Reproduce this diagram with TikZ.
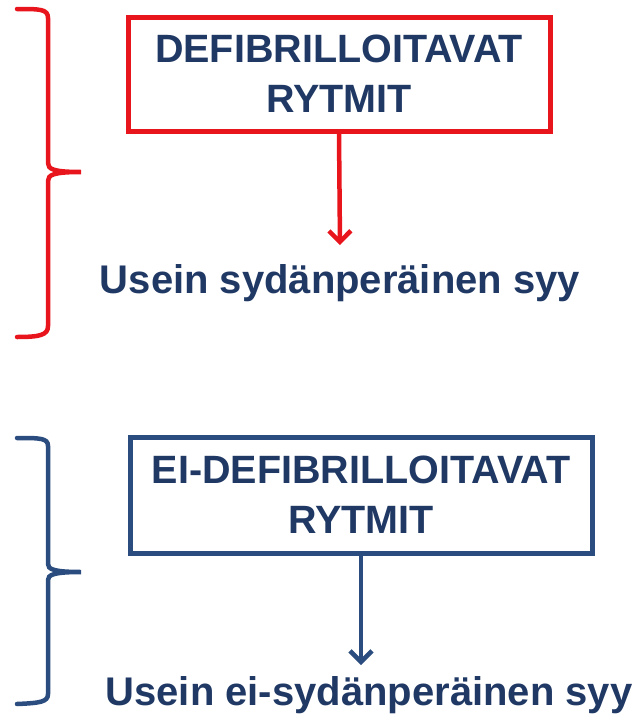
\documentclass[tikz,border=0pt]{standalone}
\usepackage{fontspec}
\setmainfont{Liberation Sans}
\usetikzlibrary{arrows.meta}
\definecolor{rd}{HTML}{E8151C}
\definecolor{bl}{HTML}{2B4C7E}
\definecolor{tx}{HTML}{1F3864}
\tikzset{
  boxnode/.style={draw, line width=5pt, minimum width=#1, inner sep=0pt, align=center, font=\fontsize{39.5}{50}\selectfont\bfseries},
  label node/.style={font=\fontsize{40}{46}\selectfont\bfseries, text=tx, inner sep=0pt},
  brace/.style={line width=4.5pt, line cap=round},
  arr/.style={line width=4.5pt, -{Straight Barb[length=11pt,width=22pt,line width=4.5pt]}}
}
\begin{document}
\begin{tikzpicture}[x=1pt,y=-1pt]
\useasboundingbox (0,0) rectangle (635,723);
% red group
\draw[brace, rd] (17,9) .. controls (40,9) and (48,9) .. (48,18) -- (48,163) .. controls (48,169) and (53,172) .. (81,172)
  .. controls (53,172) and (48,175) .. (48,181) -- (48,326) .. controls (48,335) and (40,337) .. (17,337);
\node[boxnode=422pt, draw=rd, text=tx, minimum height=114pt] (b1) at (339,74) {DEFIBRILLOITAVAT\\RYTMIT};
\node[label node] (t1) at (340,283) {Usein sydänperäinen syy};
\coordinate (e1) at (340,245);
\draw[arr, rd] (b1.south) -- (e1);
% blue group
\draw[brace, bl] (17,438) .. controls (40,438) and (48,438) .. (48,446) -- (48,564) .. controls (48,569) and (53,572) .. (81,572)
  .. controls (53,572) and (48,575) .. (48,580) -- (48,694) .. controls (48,702) and (40,703) .. (17,704);
\node[boxnode=462pt, draw=bl, text=tx, minimum height=116pt] (b2) at (361,495) {EI-DEFIBRILLOITAVAT\\RYTMIT};
\node[label node] (t2) at (369,695) {Usein ei-sydänperäinen syy};
\coordinate (e2) at (361,665);
\draw[arr, bl] (b2.south) -- (e2);
\end{tikzpicture}
\end{document}
